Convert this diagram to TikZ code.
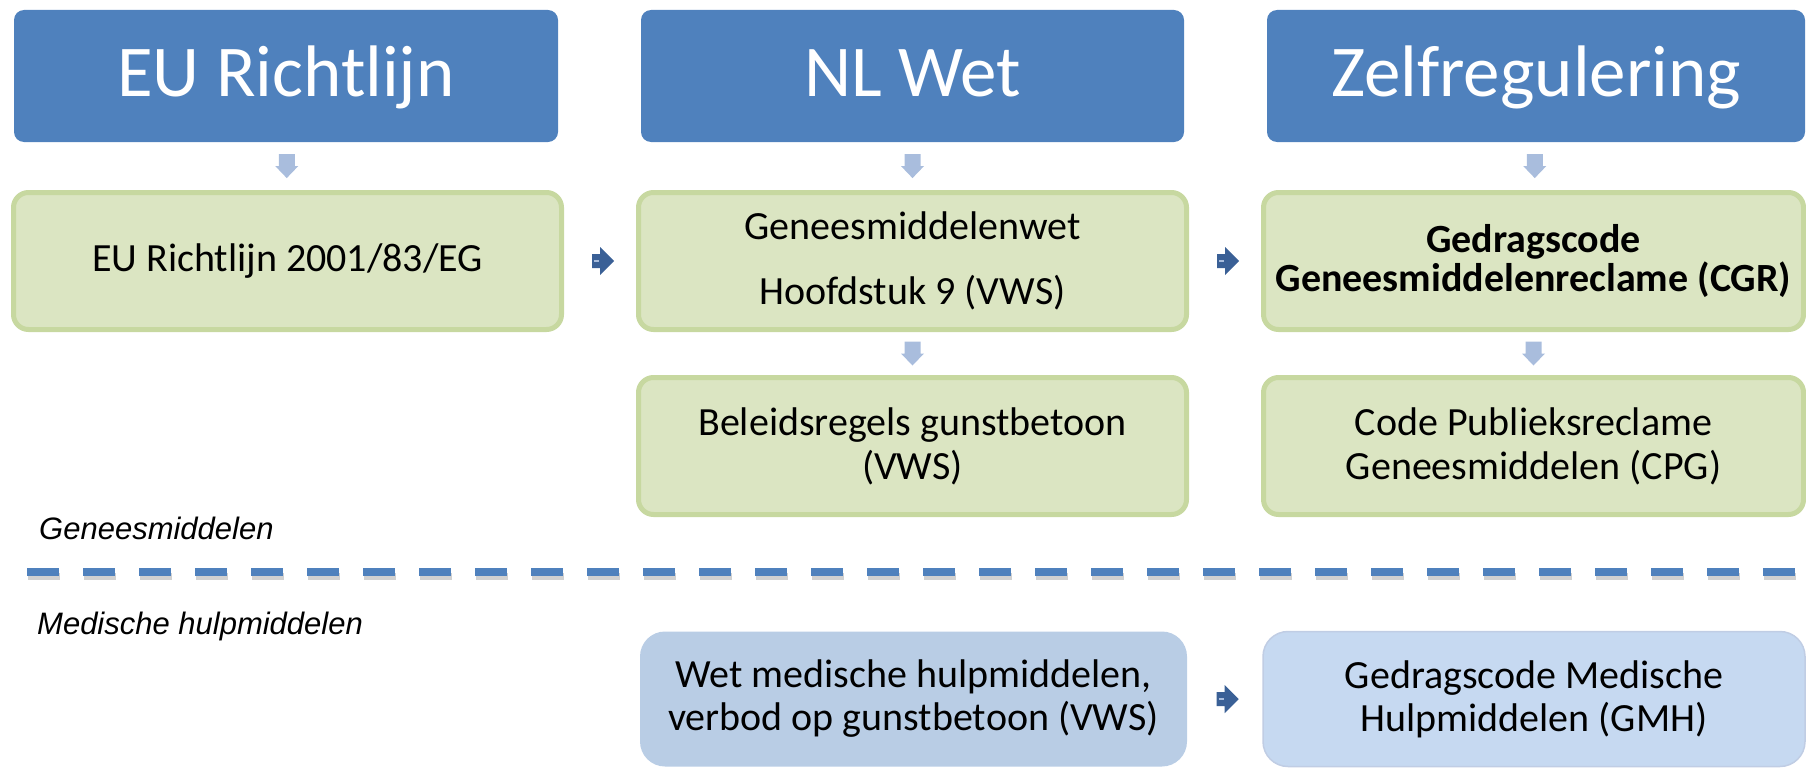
\documentclass[tikz,border=0pt]{standalone}
\usepackage{fontspec}
\setmainfont{Carlito}
\newfontfamily\labelfont{Liberation Sans}
\usepackage{tikz}
\usetikzlibrary{calc}

\definecolor{headblue}{RGB}{79,129,189}
\definecolor{boxgreen}{RGB}{219,229,194}
\definecolor{rimgreen}{RGB}{199,216,160}
\definecolor{stepblue}{RGB}{169,189,221}
\definecolor{linkblue}{RGB}{58,96,150}
\definecolor{mhblue}{RGB}{185,205,229}
\definecolor{mhlight}{RGB}{198,217,241}
\definecolor{mhedge}{RGB}{192,205,228}

\begin{document}
\begin{tikzpicture}[x=1pt,y=-1pt,
    head/.style={fill=headblue,rounded corners=10pt,text=white,minimum height=132pt,
        font=\fontsize{73}{80}\selectfont,text height=55pt,text depth=15pt},
    wet/.style={fill=boxgreen,draw=rimgreen,line width=5pt,rounded corners=15pt,
        minimum height=137pt,align=center,font=\fontsize{40}{44}\selectfont},
    hulp/.style={rounded corners=25pt,minimum height=135pt,align=center,
        font=\fontsize{40}{43}\selectfont},
    sector/.style={font=\labelfont\itshape\fontsize{31}{36}\selectfont,anchor=base west,inner sep=0pt},
    stap/.pic={\fill[stepblue] (-8,-12) rectangle (8,0) (-11.5,0) -- (11.5,0) -- (0,12) -- cycle;},
    door/.pic={\fill[linkblue] (-8,-7) rectangle (0,7) (0,-14) -- (14,0) -- (0,14) -- cycle;
        \draw[stepblue,line width=1.5pt] (-6,0) -- (-1,0);}]
\useasboundingbox (0,0) rectangle (1806,768);

% kolomkoppen
\node[head,minimum width=544pt] (eu) at (286,76) {EU Richtlijn};
\node[head,minimum width=543pt] (nl) at (912.5,76) {NL Wet};
\node[head,minimum width=538pt] (zelf) at (1536,76) {Zelfregulering};

% geneesmiddelen
\node[wet,minimum width=548pt] (richtlijn) at (287.5,261) {EU Richtlijn 2001/83/EG};
\node[wet,minimum width=548pt] (gmw) at (912.5,261) {Geneesmiddelenwet\\[21pt]Hoofdstuk 9 (VWS)};
\node[wet,minimum width=540pt,font=\bfseries\fontsize{40}{39}\selectfont] (cgr) at (1533.5,261)
    {Gedragscode\\Geneesmiddelenreclame (CGR)};
\node[wet,minimum width=548pt] (beleid) at (912.5,446) {Beleidsregels gunstbetoon\\(VWS)};
\node[wet,minimum width=540pt] (cpg) at (1533.5,446) {Code Publieksreclame\\Geneesmiddelen (CPG)};

% medische hulpmiddelen
\node[hulp,fill=mhblue,minimum width=547pt] (wmh) at (913.5,699)
    {Wet medische hulpmiddelen,\\verbod op gunstbetoon (VWS)};
\node[hulp,fill=mhlight,draw=mhedge,line width=1.5pt,minimum width=542pt] (gmh) at (1534,699)
    {Gedragscode Medische\\Hulpmiddelen (GMH)};

% pijlen
\pic at ($(eu.south)!0.5!(richtlijn.north)$) {stap};
\pic at ($(nl.south)!0.5!(gmw.north)$) {stap};
\pic at ($(zelf.south)!0.5!(cgr.north)$) {stap};
\pic at ($(gmw.south)!0.5!(beleid.north)$) {stap};
\pic at ($(cgr.south)!0.5!(cpg.north)$) {stap};
\pic at ($(richtlijn.east)!0.5!(gmw.west)$) {door};
\pic at ($(gmw.east)!0.5!(cgr.west)$) {door};
\pic at ($(wmh.east)!0.5!(gmh.west)$) {door};

% scheiding
\coordinate (scheidL) at (27,572);
\coordinate (scheidR) at (1806,572);
\draw[black,opacity=0.18,line width=7pt,dash pattern=on 32pt off 24pt] ($(scheidL)+(1,4)$) -- ($(scheidR)+(1,4)$);
\draw[headblue,line width=8pt,dash pattern=on 32pt off 24pt] (scheidL) -- (scheidR);

\node[sector] (gm) at (39,539) {Geneesmiddelen};
\node[sector] (mh) at (37,634) {Medische hulpmiddelen};
\end{tikzpicture}
\end{document}
